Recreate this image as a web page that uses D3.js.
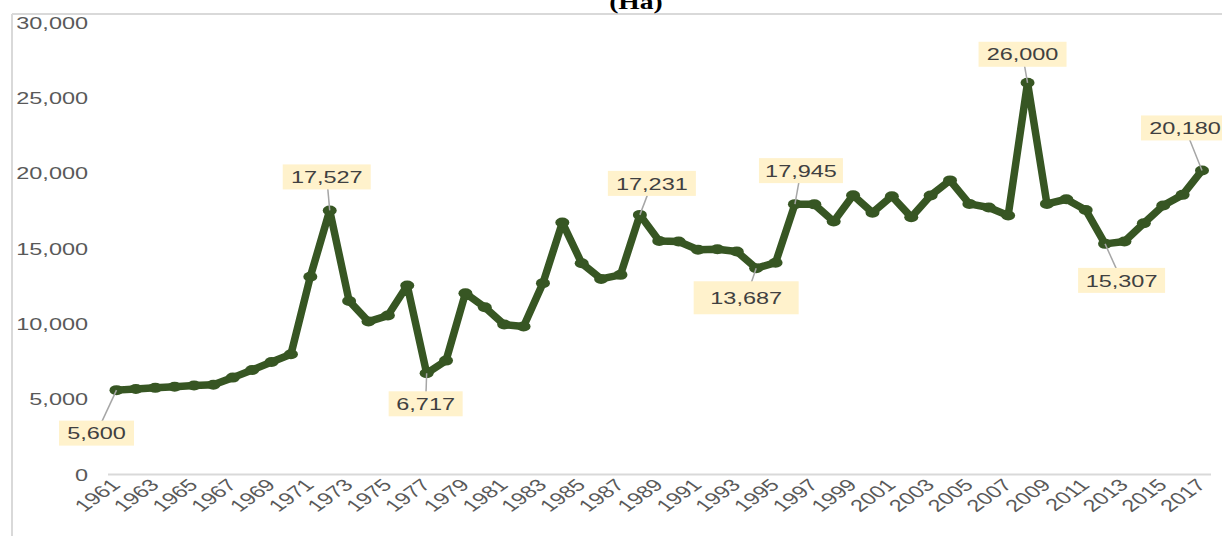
<!DOCTYPE html>
<html>
<head>
<meta charset="utf-8">
<script src="https://cdn.jsdelivr.net/npm/d3@7"></script>
<style>
  html, body { margin: 0; padding: 0; background: #fff; }
  svg { display: block; }
</style>
</head>
<body>
<svg id="chart" width="1222" height="536"></svg>
<script>
// ---- data ----
const title = "(Ha)";
const years = d3.range(1961, 2018);
const values = [
  5600, 5680, 5750, 5830, 5910, 5960, 6430, 6940, 7470, 7980,
  13130, 17527, 11520, 10150, 10550, 12540, 6717, 7560, 12030, 11100,
  9950, 9820, 12700, 16720, 14020, 12980, 13250, 17231, 15500, 15460,
  14920, 14950, 14800, 13687, 14060, 17945, 17930, 16790, 18530, 17380,
  18470, 17080, 18520, 19520, 17960, 17720, 17190, 26000, 17960, 18270,
  17560, 15307, 15460, 16680, 17850, 18560, 20180
];
const yTicks = [0, 5000, 10000, 15000, 20000, 25000, 30000];
const xTickYears = years.filter((y, i) => i % 2 === 0);
const labeledYears = [1961, 1972, 1977, 1988, 1994, 1996, 2008, 2012, 2017];

// ---- layout (pixels, styling only) ----
const labelLayout = {
  1961: { dx: -20, dy: 43, w: 75, h: 25 },
  1972: { dx: -3, dy: -33.5, w: 88, h: 25 },
  1977: { dx: -1, dy: 30.5, w: 74, h: 25 },
  1988: { dx: 12, dy: -31.5, w: 88, h: 25 },
  1994: { dx: -10, dy: 29.5, w: 105, h: 33 },
  1996: { dx: 6, dy: -33.5, w: 84, h: 25 },
  2008: { dx: -5, dy: -28.5, w: 88, h: 25 },
  2012: { dx: 16.5, dy: 36.5, w: 87, h: 25 },
  2017: { dx: -17, dy: -42.5, w: 88, h: 25 }
};
const SX = 1.38; // horizontal text stretch
const green = "#375623";

const svg = d3.select("#chart");
const x = d3.scalePoint().domain(years).range([116.5, 1202]);
const y = d3.scaleLinear().domain([0, 30000]).range([474.5, 22.5]);

// frame
svg.append("line").attr("x1", 12).attr("x2", 1222).attr("y1", 14).attr("y2", 14)
  .attr("stroke", "#d9d9d9").attr("stroke-width", 2);
svg.append("line").attr("x1", 12).attr("x2", 12).attr("y1", 14).attr("y2", 536)
  .attr("stroke", "#d9d9d9").attr("stroke-width", 2);

// title
svg.append("text").text(title)
  .attr("transform", `translate(636,9) scale(${SX},1)`)
  .attr("text-anchor", "middle")
  .attr("font-family", "Liberation Serif, Times New Roman, serif")
  .attr("font-weight", "bold").attr("font-size", 20).attr("fill", "#000");

// y axis labels
svg.append("g").selectAll("text").data(yTicks).join("text")
  .attr("transform", d => `translate(88,${y(d)}) scale(${SX},1)`)
  .attr("text-anchor", "end").attr("dy", "0.36em")
  .attr("font-family", "Liberation Sans, Arial, sans-serif")
  .attr("font-size", 17).attr("fill", "#595959")
  .text(d => d3.format(",")(d));

// baseline
svg.append("line").attr("x1", 108).attr("x2", 1211).attr("y1", y(0)).attr("y2", y(0))
  .attr("stroke", "#d9d9d9").attr("stroke-width", 2);

// x labels
svg.append("g").selectAll("text").data(xTickYears).join("text")
  .attr("transform", d => `translate(${x(d) + 5},${486}) scale(${SX},1) rotate(-45)`)
  .attr("text-anchor", "end")
  .attr("font-family", "Liberation Sans, Arial, sans-serif")
  .attr("font-size", 17).attr("fill", "#595959")
  .text(d => d);

// line
const pts = years.map((yr, i) => ({ year: yr, value: values[i] }));
svg.append("path").datum(pts)
  .attr("d", d3.line().x(d => x(d.year)).y(d => y(d.value)))
  .attr("fill", "none").attr("stroke", green).attr("stroke-width", 7.5)
  .attr("stroke-linejoin", "round");

// markers
svg.append("g").selectAll("ellipse").data(pts).join("ellipse")
  .attr("cx", d => x(d.year)).attr("cy", d => y(d.value))
  .attr("rx", 7).attr("ry", 5).attr("fill", green);

// data labels
const lab = svg.append("g");
labeledYears.forEach(yr => {
  const v = values[years.indexOf(yr)];
  const L = labelLayout[yr];
  const px = x(yr), py = y(v);
  const cx = px + L.dx, cy = py + L.dy;
  lab.append("line").attr("x1", px).attr("y1", py).attr("x2", cx).attr("y2", cy)
    .attr("stroke", "#a6a6a6").attr("stroke-width", 1.5);
  lab.append("rect").attr("x", cx - L.w / 2).attr("y", cy - L.h / 2)
    .attr("width", L.w).attr("height", L.h).attr("fill", "#fff2cc");
  lab.append("text")
    .attr("transform", `translate(${cx},${cy}) scale(${SX},1)`)
    .attr("text-anchor", "middle").attr("dy", "0.36em")
    .attr("font-family", "Liberation Sans, Arial, sans-serif")
    .attr("font-size", 17).attr("fill", "#404040")
    .text(d3.format(",")(v));
});
</script>
</body>
</html>
